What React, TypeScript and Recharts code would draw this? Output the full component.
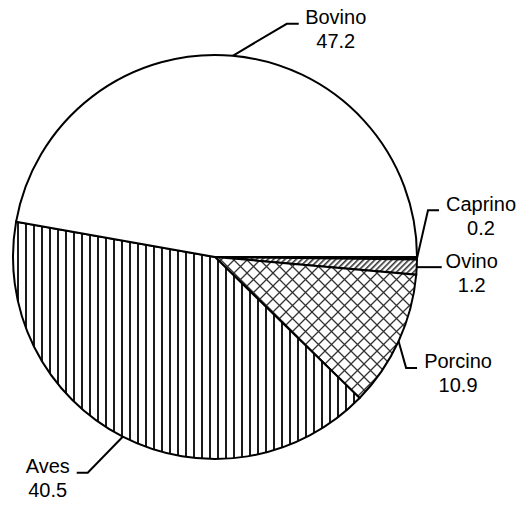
import React from 'react';
import { PieChart, Pie, Cell } from 'recharts';

const categories = ['Caprino', 'Ovino', 'Porcino', 'Aves', 'Bovino'];
const values = [0.2, 1.2, 10.9, 40.5, 47.2];
const valueLabels = ['0.2', '1.2', '10.9', '40.5', '47.2'];

const fills = ['#000', 'url(#hatchOvino)', 'url(#crossPorcino)', 'url(#vertAves)', '#fff'];

// leader layout: elbow offset from arc midpoint, horizontal run, text-center offset
const labelLayout = [
  { ex: 11, ey: -48, run: 11, tx: 42 },
  { ex: 0, ey: 0, run: 25, tx: 30 },
  { ex: 7.5, ey: 26.6, run: 11, tx: 41 },
  { ex: -35, ey: 36, run: -11, tx: -29 },
  { ex: 54, ey: -32, run: 12, tx: 37 },
];

const data = categories.map((name, i) => ({ name, value: values[i] }));

const RAD = Math.PI / 180;
const FONT = '"Liberation Sans", Arial, sans-serif';

const renderLabel = (props: any) => {
  const { cx, cy, midAngle, outerRadius, index } = props;
  const px = cx + outerRadius * Math.cos(-midAngle * RAD);
  const py = cy + outerRadius * Math.sin(-midAngle * RAD);
  const L = labelLayout[index];
  const ex = px + L.ex;
  const ey = py + L.ey;
  const hx = ex + L.run;
  const tx = hx + L.tx;
  return (
    <g key={`lbl-${index}`}>
      <polyline points={`${px},${py} ${ex},${ey} ${hx},${ey}`} fill="none" stroke="#000" strokeWidth={2} />
      <text x={tx} y={ey - 6.5} textAnchor="middle" dominantBaseline="central" fontFamily={FONT} fontSize={20} fill="#000">
        {categories[index]}
      </text>
      <text x={tx} y={ey + 17.5} textAnchor="middle" dominantBaseline="central" fontFamily={FONT} fontSize={20} fill="#000">
        {valueLabels[index]}
      </text>
    </g>
  );
};

export default function App() {
  return (
    <div style={{ position: 'absolute', left: 0, top: 0, width: 532, height: 506 }}>
      <svg width={0} height={0} style={{ position: 'absolute' }}>
        <defs>
          <pattern id="vertAves" patternUnits="userSpaceOnUse" width={8} height={8}>
            <rect x={0} y={0} width={8} height={8} fill="#fff" />
            <rect x={1} y={0} width={2} height={8} fill="#1a1a1a" />
          </pattern>
          <pattern id="crossPorcino" patternUnits="userSpaceOnUse" width={13} height={13}>
            <rect x={0} y={0} width={13} height={13} fill="#fff" />
            <path d="M0,0 L13,13 M13,0 L0,13" stroke="#333" strokeWidth={1.3} />
          </pattern>
          <pattern id="hatchOvino" patternUnits="userSpaceOnUse" width={4} height={4} patternTransform="rotate(45)">
            <rect x={0} y={0} width={4} height={4} fill="#fff" />
            <rect x={0} y={0} width={1.6} height={4} fill="#333" />
          </pattern>
        </defs>
      </svg>
      <PieChart width={532} height={506} margin={{ top: 0, right: 0, bottom: 0, left: 0 }}>
        <Pie
          data={data}
          dataKey="value"
          nameKey="name"
          cx={215}
          cy={257}
          outerRadius={202}
          startAngle={0}
          endAngle={-360}
          stroke="#000"
          strokeWidth={2}
          label={renderLabel}
          labelLine={false}
          isAnimationActive={false}
        >
          {data.map((d, i) => (
            <Cell key={d.name} fill={fills[i]} stroke="#000" strokeWidth={2} />
          ))}
        </Pie>
      </PieChart>
    </div>
  );
}
